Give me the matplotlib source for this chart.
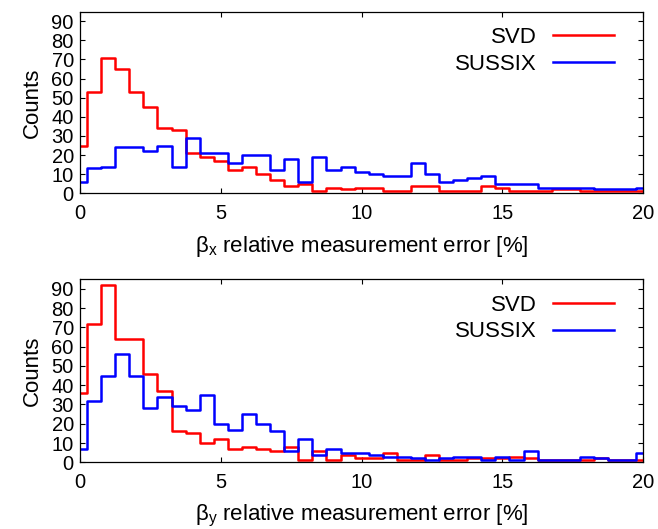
import numpy as np
import matplotlib
matplotlib.use('Agg')
from matplotlib import pyplot as plt

plt.rcParams['font.family'] = ['Liberation Sans', 'DejaVu Sans']
plt.rcParams['mathtext.fontset'] = 'custom'
plt.rcParams['mathtext.rm'] = 'Liberation Sans'

# bin centres: 0, 0.5, ..., 20 (%)
bins = np.arange(0, 20.01, 0.5)

# beta_x histograms
svd_x = [25, 53, 71, 65, 53, 45, 34, 33, 21, 19, 17, 12, 14, 10, 7, 4, 5, 1, 3, 2,
         3, 3, 1, 1, 4, 4, 1, 1, 1, 4, 3, 1, 1, 1, 2, 2, 1, 1, 1, 1, 1]
sussix_x = [6, 13, 14, 24, 24, 22, 25, 14, 29, 21, 21, 16, 20, 20, 12, 18, 6, 19, 12, 14,
            11, 10, 9, 9, 16, 10, 6, 7, 8, 9, 5, 5, 5, 3, 3, 3, 3, 2, 2, 2, 3]

# beta_y histograms
svd_y = [36, 72, 92, 64, 64, 46, 37, 16, 15, 10, 12, 7, 8, 7, 6, 8, 1, 6, 1, 4,
         2, 2, 5, 1, 1, 4, 1, 1, 2, 2, 2, 3, 2, 1, 1, 1, 1, 2, 1, 1, 1]
sussix_y = [7, 32, 45, 56, 45, 28, 34, 29, 27, 35, 20, 17, 25, 20, 16, 6, 12, 4, 7, 5,
            5, 4, 3, 3, 2, 1, 2, 3, 3, 1, 3, 1, 6, 1, 1, 1, 3, 2, 1, 1, 5]

xlabels = ['β$_\\mathregular{x}$ relative measurement error [%]',
           'β$_\\mathregular{y}$ relative measurement error [%]']

fig = plt.figure(figsize=(6.58, 5.29), dpi=100)
ax1 = fig.add_axes([0.1216, 0.6346, 0.856, 0.3433])
ax2 = fig.add_axes([0.1216, 0.1261, 0.856, 0.346])

for ax, svd, sus, xl in [(ax1, svd_x, sussix_x, xlabels[0]),
                         (ax2, svd_y, sussix_y, xlabels[1])]:
    ax.step(bins, svd, where='mid', color='#ff0000', lw=1.8, label='SVD')
    ax.step(bins, sus, where='mid', color='#0000ff', lw=1.8, label='SUSSIX')
    ax.set_xlim(0, 20)
    ax.set_ylim(0, 95)
    ax.set_xticks([0, 5, 10, 15, 20])
    ax.set_yticks(range(0, 91, 10))
    ax.tick_params(direction='in', top=True, right=True, length=3.6, width=0.8,
                   labelsize=14.5)
    ax.tick_params(axis='x', pad=7.5)
    ax.tick_params(axis='y', pad=4.5)
    for s in ax.spines.values():
        s.set_linewidth(0.9)
    ax.set_ylabel('Counts', fontsize=16, labelpad=6)
    ax.set_xlabel(xl, fontsize=16, labelpad=8)
    ax.legend(loc='upper right', markerfirst=False, frameon=False, fontsize=16,
              handlelength=2.75, handletextpad=0.72, labelspacing=0.25,
              borderaxespad=0.3, bbox_to_anchor=(0.975, 1.0))

fig.savefig('out.png', dpi=100)
